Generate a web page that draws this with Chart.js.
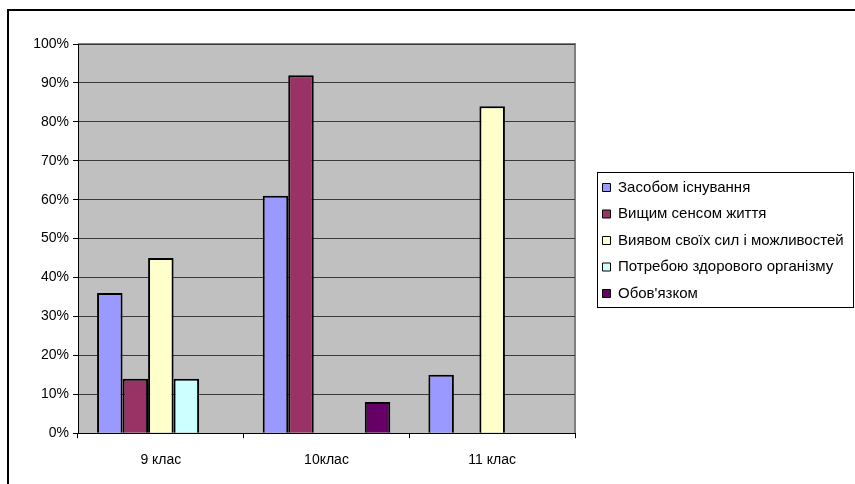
<!DOCTYPE html>
<html>
<head>
<meta charset="utf-8">
<script src="https://cdn.jsdelivr.net/npm/chart.js@4"></script>
<style>
  html, body { margin: 0; padding: 0; background: #fff; }
  #wrap { width: 855px; height: 484px; }
</style>
</head>
<body>
<div id="wrap"><canvas id="chart" width="855" height="484"></canvas></div>
<script>
var classes = ["9 клас", "10клас", "11 клас"];
var names = ["Засобом існування", "Вищим сенсом життя", "Виявом своїх сил і можливостей", "Потребою здорового організму", "Обов'язком"];
// значення у відсотках, null = немає стовпця
var zasobom  = [36, 61, 15];
var vyshchym = [14, 92, null];
var vyiavom  = [45, null, 84];
var potreboiu = [14, null, null];
var oboviazok = [null, 8, null];
var yTicks = [0, 10, 20, 30, 40, 50, 60, 70, 80, 90, 100];

var colors = ["#9999FF", "#993366", "#FFFFCC", "#CCFFFF", "#660066"];
var series = [zasobom, vyshchym, vyiavom, potreboiu, oboviazok];

var FONT = "'Liberation Sans', Arial, sans-serif";

// сірий фон області побудови + рамка діаграми
var background = {
	id: "background",
	beforeDraw: function (chart) {
		var ctx = chart.ctx, a = chart.chartArea;
		ctx.save();
		ctx.fillStyle = "#C0C0C0";
		ctx.fillRect(a.left, a.top, a.right - a.left, a.bottom - a.top);
		ctx.strokeStyle = "#808080";
		ctx.lineWidth = 2;
		ctx.beginPath();
		ctx.moveTo(a.left, a.top);
		ctx.lineTo(a.right, a.top);
		ctx.lineTo(a.right, a.bottom);
		ctx.stroke();
		ctx.strokeStyle = "#000";
		ctx.beginPath();
		ctx.moveTo(855, 10);
		ctx.lineTo(8, 10);
		ctx.lineTo(8, 484);
		ctx.stroke();
		ctx.restore();
	}
};

// легенда: фіксована ширина і зсув, як в Excel
var legendPlace = {
	id: "legendPlace",
	beforeUpdate: function (chart) {
		var lg = chart.legend;
		if (lg && !lg._patched) {
			var fit = lg.fit;
			lg.fit = function () {
				fit.call(this);
				this.width = 280;
			};
			lg._patched = true;
		}
	},
	afterLayout: function (chart) {
		var lg = chart.legend;
		lg.left += 16;
		lg.right = 855;
		lg.top -= 23;
		lg.bottom -= 23;
	},
	afterDraw: function (chart) {
		var boxes = chart.legend.legendHitBoxes;
		if (!boxes || !boxes.length) return;
		var first = boxes[0], last = boxes[boxes.length - 1];
		var top = first.top, bottom = last.top + last.height;
		var ctx = chart.ctx;
		ctx.save();
		ctx.strokeStyle = "#000";
		ctx.lineWidth = 1;
		ctx.strokeRect(Math.round(first.left) - 5.5, Math.round(top) - 7.5, 256, Math.round(bottom - top) + 14);
		ctx.restore();
	}
};

var datasets = [];
for (var i = 0; i < series.length; i++) {
	datasets.push({
		label: names[i],
		data: series[i],
		backgroundColor: colors[i],
		borderColor: "#000",
		borderWidth: 2,
		borderSkipped: "bottom",
		barPercentage: 1,
		categoryPercentage: 0.77
	});
}

new Chart(document.getElementById("chart"), {
	type: "bar",
	data: { labels: classes, datasets: datasets },
	plugins: [background, legendPlace],
	options: {
		responsive: false,
		animation: false,
		layout: { padding: { left: 10, right: 0, top: 44, bottom: 1 } },
		plugins: {
			tooltip: { enabled: false },
			legend: {
				position: "right",
				labels: {
					font: { family: FONT, size: 15 },
					color: "#000",
					boxWidth: 8,
					boxHeight: 8,
					padding: 11.5,
					generateLabels: function (chart) {
						var items = Chart.defaults.plugins.legend.labels.generateLabels(chart);
						items.forEach(function (it) { it.lineWidth = 1; });
						return items;
					}
				}
			}
		},
		scales: {
			x: {
				offset: true,
				grid: { display: true, drawOnChartArea: false, offset: true, tickLength: 5, color: "#000", lineWidth: 1 },
				border: { color: "#000", width: 1 },
				ticks: { font: { family: FONT, size: 14 }, color: "#000", padding: 14 }
			},
			y: {
				min: 0,
				max: 100,
				afterFit: function (scale) { scale.width = 68; },
				afterBuildTicks: function (scale) {
					scale.ticks = yTicks.map(function (v) { return { value: v }; });
				},
				grid: { color: "#3a3a3a", lineWidth: 1, tickLength: 5, tickColor: "#000" },
				border: { color: "#000", width: 1 },
				ticks: {
					font: { family: FONT, size: 14 },
					color: "#000",
					padding: 4,
					callback: function (v) { return v + "%"; }
				}
			}
		}
	}
});
</script>
</body>
</html>
